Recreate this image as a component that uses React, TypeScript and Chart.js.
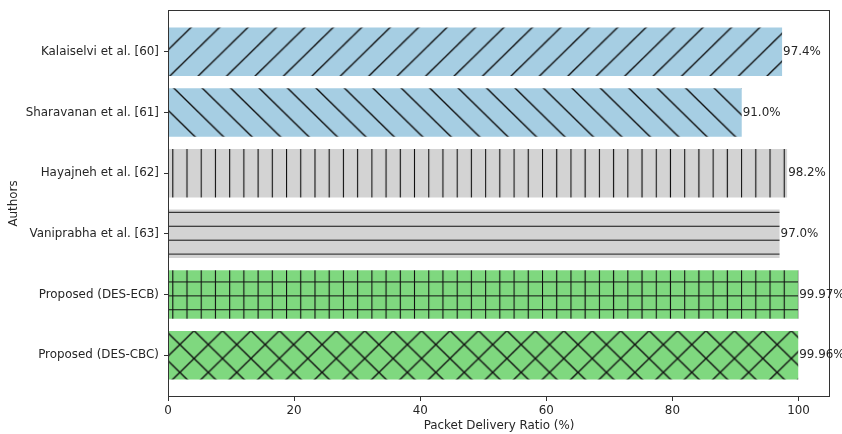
import React, { useEffect, useRef } from 'react';
import { Chart, registerables } from 'chart.js';

Chart.register(...registerables);

const authors = [
  'Kalaiselvi et al. [60]',
  'Sharavanan et al. [61]',
  'Hayajneh et al. [62]',
  'Vaniprabha et al. [63]',
  'Proposed (DES-ECB)',
  'Proposed (DES-CBC)',
];
const pdr = [97.4, 91.0, 98.2, 97.0, 99.97, 99.96];
const valueLabels = ['97.4%', '91.0%', '98.2%', '97.0%', '99.97%', '99.96%'];
const barColors = ['#a6cee3', '#a6cee3', '#d3d3d3', '#d3d3d3', '#7fd87f', '#7fd87f'];
const hatches = ['/', '\\', '|', '-', '+', 'x'];
const xTicks = [0, 20, 40, 60, 80, 100];

const FONT = 'DejaVu Sans';
const TEXT = '#262626';
const FSIZE = 11.9;

// hatch lattice (page pixels)
const HX = 28.44;
const HY = 27.84;
const X0 = 2.1;
const Y0 = 3.5;

function makeHatch(color: string, kind: string): CanvasPattern | string {
  const T = 28;
  const c = document.createElement('canvas');
  c.width = T;
  c.height = T;
  const g = c.getContext('2d');
  if (!g) return color;
  g.fillStyle = color;
  g.fillRect(0, 0, T, T);
  g.strokeStyle = '#111';
  const straight = kind === '|' || kind === '-' || kind === '+';
  g.lineWidth = straight ? 1.1 : 1.4;
  g.beginPath();
  if (kind === '|' || kind === '+') {
    for (const a of [0.5, 14.5]) {
      g.moveTo(a, -1);
      g.lineTo(a, T + 1);
    }
  }
  if (kind === '-' || kind === '+') {
    for (const b of [0.5, 14.5]) {
      g.moveTo(-1, b);
      g.lineTo(T + 1, b);
    }
  }
  if (kind === '/' || kind === 'x') {
    for (const k of [-14, 14, 42]) {
      g.moveTo(k + 1, -1);
      g.lineTo(k - T - 1, T + 1);
    }
  }
  if (kind === '\\' || kind === 'x') {
    for (const k of [-T, 0, T]) {
      g.moveTo(k - 1, -1);
      g.lineTo(k + T + 1, T + 1);
    }
  }
  g.stroke();
  const p = g.createPattern(c, 'repeat');
  if (!p) return color;
  const sx = HX / T;
  const sy = HY / T;
  let tx = X0;
  let ty = Y0;
  if (straight) {
    tx = X0 - 0.5 * sx;
    ty = Y0 - 0.5 * sy;
  }
  try {
    p.setTransform(new DOMMatrix([sx, 0, 0, sy, tx, ty]));
  } catch (e) {
    /* ignore */
  }
  return p;
}

const framePlugin = {
  id: 'frame',
  afterDatasetsDraw(chart: any) {
    const { ctx, chartArea } = chart;
    ctx.save();
    ctx.strokeStyle = '#333';
    ctx.lineWidth = 1;
    const l = Math.round(chartArea.left) + 0.5;
    const r = Math.round(chartArea.right) - 0.5;
    const t = Math.round(chartArea.top) + 0.5;
    const b = Math.round(chartArea.bottom) - 0.5;
    ctx.strokeRect(l, t, r - l, b - t);
    ctx.restore();
  },
};

const valueLabelPlugin = {
  id: 'valueLabels',
  afterDatasetsDraw(chart: any) {
    const { ctx } = chart;
    const meta = chart.getDatasetMeta(0);
    ctx.save();
    ctx.font = `${FSIZE}px "${FONT}"`;
    ctx.fillStyle = TEXT;
    ctx.textAlign = 'left';
    ctx.textBaseline = 'middle';
    meta.data.forEach((bar: any, i: number) => {
      ctx.fillText(valueLabels[i], bar.x + 1, bar.y);
    });
    ctx.restore();
  },
};

export default function App() {
  const ref = useRef<HTMLCanvasElement | null>(null);

  useEffect(() => {
    const canvas = ref.current;
    if (!canvas) return;
    const patterns = hatches.map((h, i) => makeHatch(barColors[i], h));
    const chart = new Chart(canvas, {
      type: 'bar',
      data: {
        datasets: [
          {
            data: pdr.map((v, i) => ({ x: v, y: i })) as any,
            backgroundColor: patterns as any,
            borderWidth: 0,
            barPercentage: 0.8,
            categoryPercentage: 1,
          },
        ],
      },
      options: {
        indexAxis: 'y',
        responsive: false,
        maintainAspectRatio: false,
        animation: false,
        layout: { padding: { top: 10, right: 12, left: 0, bottom: 0 } },
        plugins: {
          legend: { display: false },
          tooltip: { enabled: false },
        },
        scales: {
          x: {
            type: 'linear',
            position: 'bottom',
            min: 0,
            max: 105,
            afterBuildTicks: (s: any) => {
              s.ticks = xTicks.map((v) => ({ value: v }));
            },
            afterFit: (s: any) => {
              s.height = 37;
              s.paddingLeft = 0;
              s.paddingRight = 0;
            },
            ticks: {
              color: TEXT,
              font: { family: FONT, size: FSIZE },
              padding: 3,
              maxRotation: 0,
              includeBounds: false,
            } as any,
            grid: { drawOnChartArea: false, color: '#333', tickLength: 4 },
            border: { display: false },
            title: {
              display: true,
              text: 'Packet Delivery Ratio (%)',
              color: TEXT,
              font: { family: FONT, size: FSIZE },
              padding: { top: 0, bottom: 1 },
            },
          },
          y: {
            type: 'linear',
            position: 'left',
            min: -0.69,
            max: 5.69,
            reverse: true,
            offset: false,
            afterBuildTicks: (s: any) => {
              s.ticks = authors.map((_, i) => ({ value: i }));
            },
            afterFit: (s: any) => {
              s.width = 168;
              s.paddingTop = 0;
              s.paddingBottom = 0;
            },
            ticks: {
              color: TEXT,
              font: { family: FONT, size: FSIZE },
              padding: 5,
              callback: (v: any) => authors[Number(v)] ?? '',
            },
            grid: { drawOnChartArea: false, offset: false, color: '#333', tickLength: 4 },
            border: { display: false },
            title: {
              display: true,
              text: 'Authors',
              color: TEXT,
              font: { family: FONT, size: FSIZE },
              padding: { top: 7, bottom: 0 },
            },
          },
        },
      },
      plugins: [framePlugin, valueLabelPlugin],
    } as any);
    return () => chart.destroy();
  }, []);

  return (
    <div
      style={{
        position: 'fixed',
        left: 0,
        top: 0,
        width: 842,
        height: 434,
        background: '#fff',
      }}
    >
      <canvas ref={ref} width={842} height={434} style={{ display: 'block' }} />
    </div>
  );
}
